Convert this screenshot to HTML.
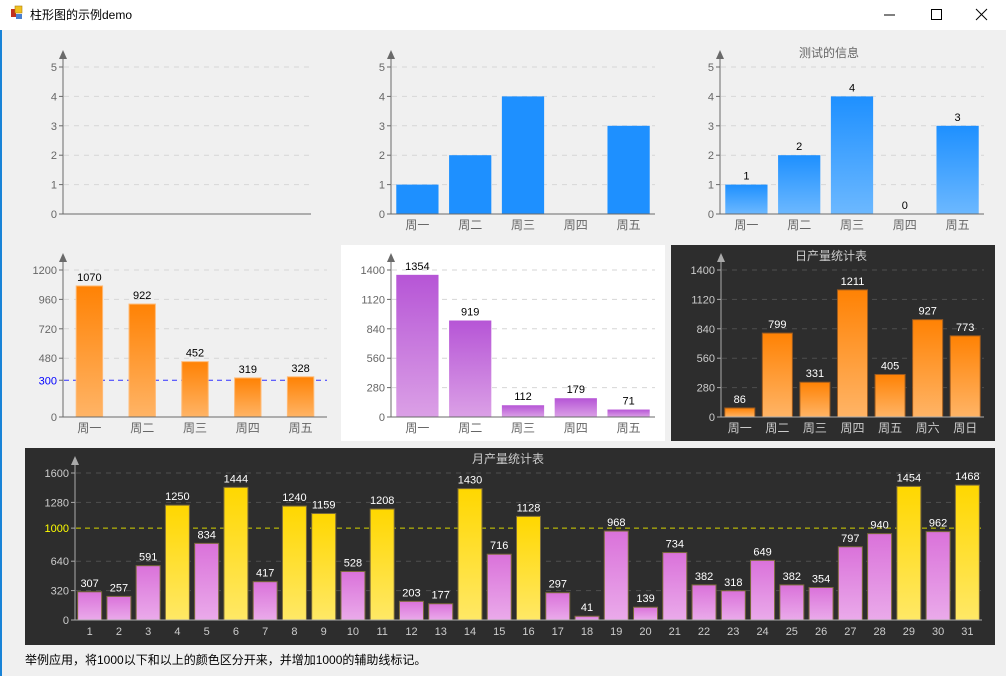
<!DOCTYPE html>
<html><head><meta charset="utf-8"><style>
html,body{margin:0;padding:0;width:1006px;height:676px;overflow:hidden;background:#f0f0f0;font-family:"Liberation Sans","Noto Sans CJK SC",sans-serif}
#titlebar{position:absolute;left:0;top:0;width:1006px;height:30px;background:#fff}
#foot{position:absolute;left:25px;top:651px;font-size:12px;color:#000}
</style></head><body>
<div id="titlebar">
 <svg width="1006" height="30" style="position:absolute;left:0;top:0">
  <rect x="11" y="9" width="5" height="8" fill="#c03020"/><rect x="15" y="6" width="7" height="7" fill="#f0c020" stroke="#b08010" stroke-width="0.6"/><rect x="16" y="14" width="6" height="5" fill="#4a80d0"/>
  <text x="30" y="19" font-size="12" fill="#000" font-family="Liberation Sans,Noto Sans CJK SC,sans-serif">柱形图的示例demo</text>
  <g><line x1="884" y1="15" x2="895" y2="15" stroke="#000"/></g>
  <g><rect x="931.5" y="9.5" width="10" height="10" fill="none" stroke="#000"/></g>
  <g><line x1="976" y1="9" x2="987" y2="20" stroke="#000"/><line x1="987" y1="9" x2="976" y2="20" stroke="#000"/></g>
 </svg>
</div>
<svg id="main" width="1006" height="676" style="position:absolute;left:0;top:0" xmlns="http://www.w3.org/2000/svg">
 <defs>
  <linearGradient id="gBlue" x1="0" y1="0" x2="0" y2="1"><stop offset="0" stop-color="#1e90ff"/><stop offset="1" stop-color="#6cb8ff"/></linearGradient>
  <linearGradient id="gOrange" x1="0" y1="0" x2="0" y2="1"><stop offset="0" stop-color="#ff8204"/><stop offset="1" stop-color="#ffb466"/></linearGradient>
  <linearGradient id="gPurple" x1="0" y1="0" x2="0" y2="1"><stop offset="0" stop-color="#b655d6"/><stop offset="1" stop-color="#dba0e6"/></linearGradient>
  <linearGradient id="gPink" x1="0" y1="0" x2="0" y2="1"><stop offset="0" stop-color="#da72da"/><stop offset="1" stop-color="#eaaaea"/></linearGradient>
  <linearGradient id="gYellow" x1="0" y1="0" x2="0" y2="1"><stop offset="0" stop-color="#ffd700"/><stop offset="1" stop-color="#ffe866"/></linearGradient>
 </defs>
 <rect x="0" y="30" width="2" height="646" fill="#1883d7"/>
 <rect x="341" y="245" width="324" height="196" fill="#ffffff"/>
 <rect x="671" y="245" width="324" height="196" fill="#2d2d2d"/>
 <rect x="25" y="448" width="970" height="197" fill="#2d2d2d"/>
 <g id="charts"></g>
</svg>
<div id="foot">举例应用，将1000以下和以上的颜色区分开来，并增加1000的辅助线标记。</div>
<script>
const week5 = ['周一','周二','周三','周四','周五'];
const week7 = ['周一','周二','周三','周四','周五','周六','周日'];
const chart1Values = [];
const chart2Values = [1,2,4,0,3];
const chart3Values = [1,2,4,0,3];
const chart4Values = [1070,922,452,319,328];
const chart5Values = [1354,919,112,179,71];
const chart6Values = [86,799,331,1211,405,927,773];
const monthDays = ['1','2','3','4','5','6','7','8','9','10','11','12','13','14','15','16','17','18','19','20','21','22','23','24','25','26','27','28','29','30','31'];
const chart7Values = [307,257,591,1250,834,1444,417,1240,1159,528,1208,203,177,1430,716,1128,297,41,968,139,734,382,318,649,382,354,797,940,1454,962,1468];
const ticks5 = [0,1,2,3,4,5];
const ticks1200 = [0,480,720,960,1200];
const ticks1400 = [0,280,560,840,1120,1400];
const ticks1600 = [0,320,640,1280,1600];

const NS='http://www.w3.org/2000/svg';
const root=document.getElementById('charts');
function mk(tag,attrs,parent){const e=document.createElementNS(NS,tag);for(const k in attrs)e.setAttribute(k,attrs[k]);(parent||root).appendChild(e);return e;}
function txt(s,attrs,parent){const e=mk('text',attrs,parent);e.textContent=s;return e;}

function chart(c){
 const g=mk('g',{});
 
 
 const yS=v=>c.base-(v/c.max)*(c.base-c.top);
 const axisCol=c.dark?'#aaaaaa':'#6a6a6a';
 const tickCol=c.dark?'#cccccc':'#666666';
 const gridCol=c.dark?'#4e4e4e':'#d6d6d6';
 const F='Liberation Sans,Noto Sans CJK SC,sans-serif';
 if(c.title){const t=txt(c.title,{x:c.titleX,y:c.titleY,'font-size':12,fill:c.dark?'#cccccc':'#666666','text-anchor':'middle','font-family':F},g);
  
  }
 c.ticks.forEach(v=>{const y=yS(v);
  if(v>0){const gl=mk('line',{x1:c.ax+1,y1:y,x2:c.right,y2:y,stroke:gridCol,'stroke-dasharray':'5,5'},g);
   
   }
  mk('line',{x1:c.ax-4,y1:y,x2:c.ax,y2:y,stroke:axisCol},g);
  const t=txt(String(v),{x:c.ax-6,y:y+4,'font-size':11,fill:tickCol,'text-anchor':'end','font-family':F},g);
  
  
 });
 if(c.ref){const y=yS(c.ref.v);
  const rl=mk('line',{x1:c.ax+1,y1:y,x2:c.right,y2:y,stroke:c.ref.col,'stroke-dasharray':'5,4'},g);
  
  
  mk('line',{x1:c.ax-4,y1:y,x2:c.ax,y2:y,stroke:axisCol},g);
  const t=txt(String(c.ref.v),{x:c.ax-6,y:y+4,'font-size':11,fill:c.ref.lab,'text-anchor':'end','font-family':F},g);
  
  }
 const slot=(c.right-c.ax)/c.n;
 const bw=slot*c.bw;
 c.vals.forEach((v,i)=>{
  const x=c.ax+slot*i+(slot-bw)/2, y=yS(v);
  const fill=typeof c.fill==='function'?c.fill(v):c.fill;
  if(v>0){const b=mk('rect',{x:x,y:y,width:bw,height:c.base-y,fill:fill,stroke:c.stroke||'none','stroke-width':1},g);
   
   }
  if(c.showVals){const t=txt(String(v),{x:x+bw/2,y:y-5,'font-size':11,fill:c.dark?'#ffffff':'#000000','text-anchor':'middle','font-family':F},g);
   
   }
 });
 c.cats.forEach((s,i)=>{
  const t=txt(s,{x:c.ax+slot*(i+0.5),y:c.base+15,'font-size':c.catSize||12,fill:tickCol,'text-anchor':'middle','font-family':F},g);
  
  
 });
 mk('line',{x1:c.ax,y1:c.base,x2:c.right,y2:c.base,stroke:axisCol},g);
 mk('line',{x1:c.ax,y1:c.base,x2:c.ax,y2:c.top-10,stroke:axisCol},g);
 const ar=mk('path',{d:`M${c.ax-4},${c.top-8} L${c.ax},${c.top-17} L${c.ax+4},${c.top-8} Z`,fill:axisCol},g);
 
 
}
chart({name:'chart-empty',ax:63,base:214,top:67,max:5,right:311,ticks:ticks5,cats:[],vals:chart1Values,n:5,bw:0.8,fill:'#1e90ff'});
chart({name:'chart-blue-simple',ax:391,base:214,top:67,max:5,right:655,ticks:ticks5,cats:week5,vals:chart2Values,n:5,bw:0.8,fill:'#1e90ff'});
chart({name:'chart-blue-gradient',ax:720,base:214,top:67,max:5,right:984,ticks:ticks5,cats:week5,vals:chart3Values,n:5,bw:0.8,fill:'url(#gBlue)',showVals:true,title:'测试的信息',titleX:829,titleY:57});
chart({name:'chart-orange-ref',ax:63,base:417,top:270,max:1200,right:327,ticks:ticks1200,cats:week5,vals:chart4Values,n:5,bw:0.5,fill:'url(#gOrange)',stroke:'#ffbb77',showVals:true,ref:{v:300,col:'#3030ff',lab:'#0000ff'}});
chart({name:'chart-purple',ax:391,base:417,top:270,max:1400,right:655,ticks:ticks1400,cats:week5,vals:chart5Values,n:5,bw:0.8,fill:'url(#gPurple)',showVals:true});
chart({name:'chart-daily-output',ax:721,base:417,top:270,max:1400,right:984,ticks:ticks1400,cats:week7,vals:chart6Values,n:7,bw:0.8,fill:'url(#gOrange)',stroke:'#9a5a20',showVals:true,dark:true,title:'日产量统计表',titleX:831,titleY:260});
chart({name:'chart-monthly-output',ax:75,base:620,top:473,max:1600,right:982,ticks:ticks1600,cats:monthDays,vals:chart7Values,n:31,bw:0.82,fill:v=>v>=1000?'url(#gYellow)':'url(#gPink)',stroke:'#7a6a3a',showVals:true,dark:true,catSize:11,title:'月产量统计表',titleX:508,titleY:463,ref:{v:1000,col:'#d4d400',lab:'#ffff00'}});
</script>
</body></html>
